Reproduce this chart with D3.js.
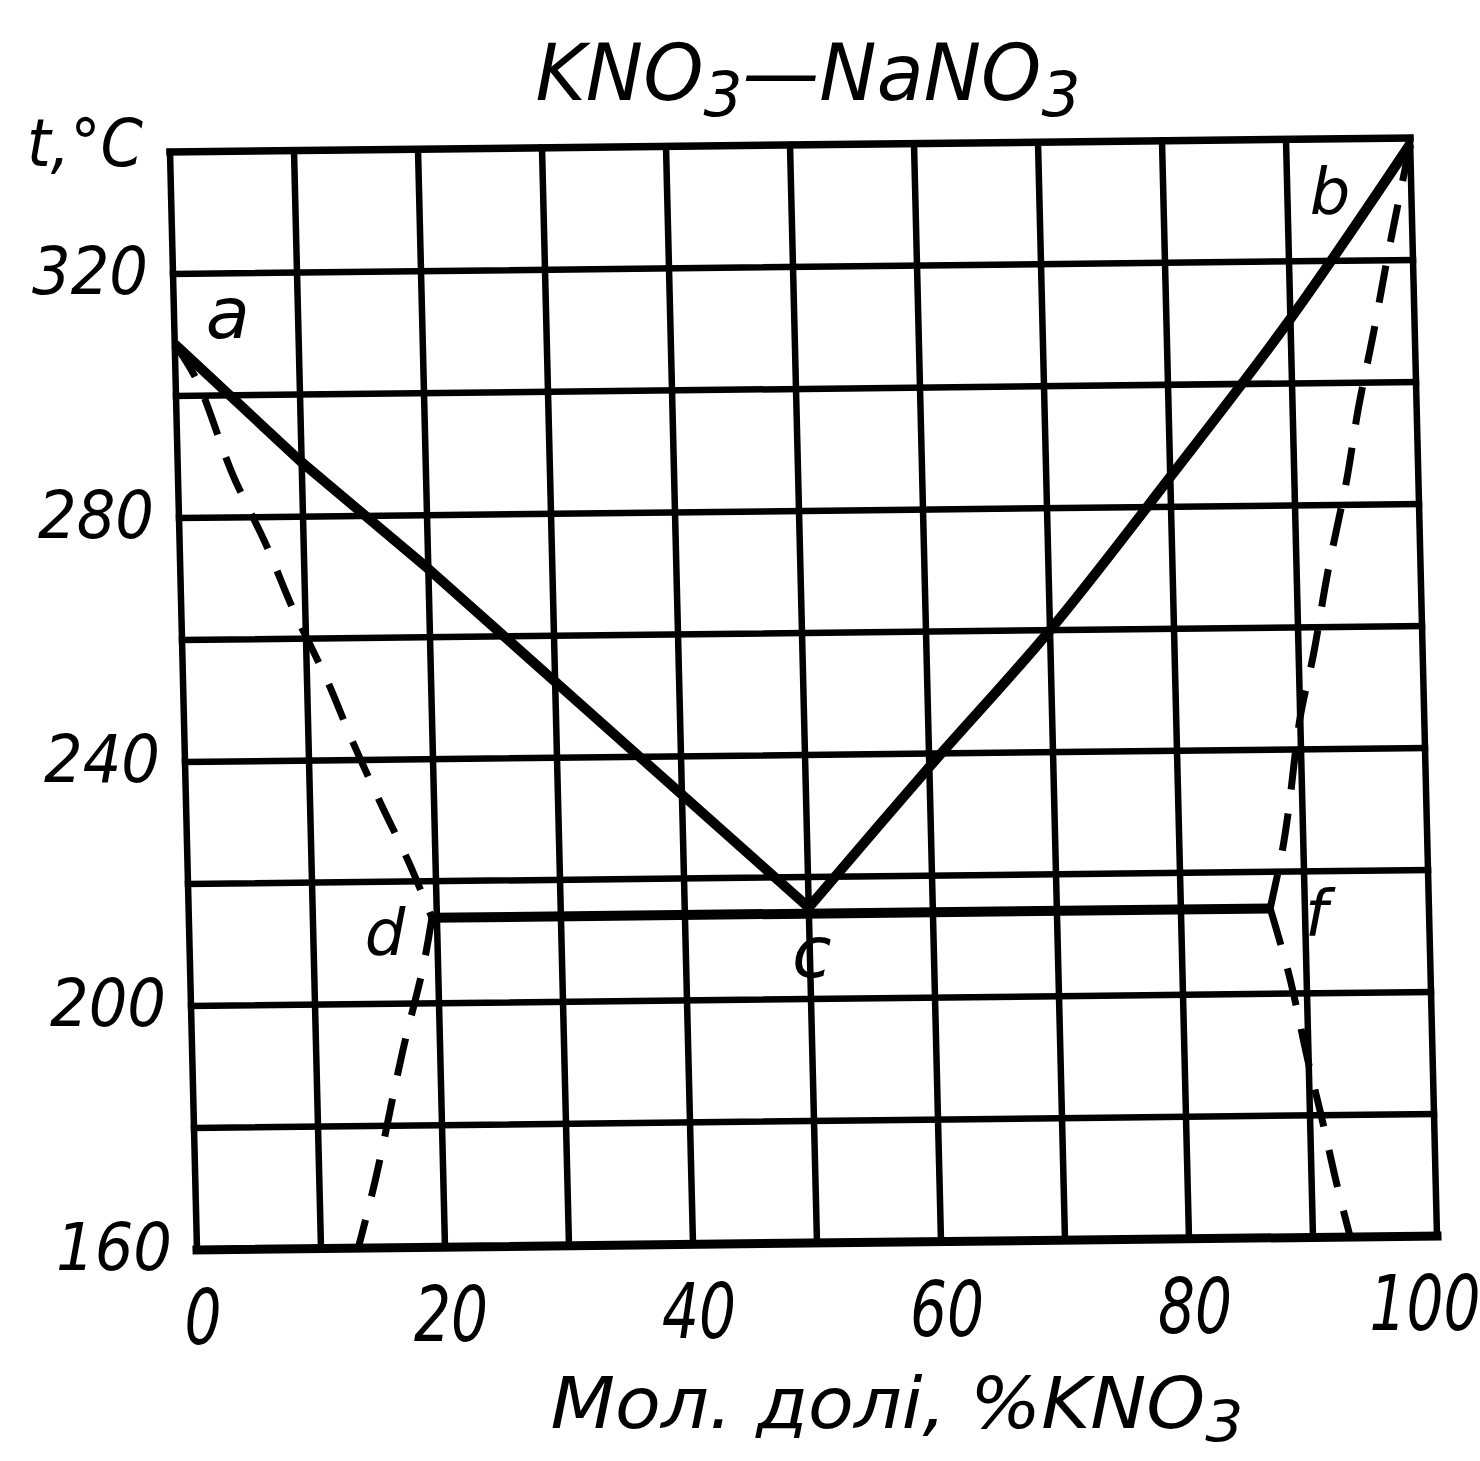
<!DOCTYPE html>
<html><head><meta charset="utf-8">
<script src="https://cdn.jsdelivr.net/npm/d3@7"></script>
<style>body{margin:0;background:#fff}svg{display:block}</style>
</head><body>
<svg id="chart" width="1480" height="1461"></svg>
<script>
// ---- data ----
const xTickValues = [0, 20, 40, 60, 80, 100];
const xTickLabels = ["0", "20", "40", "60", "80", "100"];
const yTickValues = [160, 200, 240, 280, 320];
const yTickLabels = ["160", "200", "240", "280", "320"];
const xGridValues = [0, 10, 20, 30, 40, 50, 60, 70, 80, 90, 100];
const yGridValues = [160, 180, 200, 220, 240, 260, 280, 300, 320, 340];

const liquidusLeft  = [[0, 308.5], [9.9, 289.1], [19.9, 271.4], [50, 215]];
const liquidusRight = [[50, 215], [60, 237.8], [70, 260], [80, 284.9], [90, 310.6], [100, 339]];
const solidusLeft   = [[0, 308.5], [1.7, 302.6], [4.4, 287.1], [7, 275.3], [9, 264.9], [11.6, 253.2], [13.6, 242.8], [15.6, 233.3], [17.9, 222.9], [19.6, 214]];
const solvusLeft    = [[19.6, 214], [18.8, 206], [17, 192.4], [14.5, 171], [13, 160]];
const solidusRight  = [[100, 339], [98, 321], [96.7, 308.4], [95.3, 295.8], [94.2, 283.9], [92.5, 268.9], [91.2, 255.6], [90, 245.3], [88.9, 230.4], [88.3, 223.5], [87.2, 214]];
const solvusRight   = [[87.2, 214], [88.6, 203], [89.9, 189.4], [91, 179], [92, 168.9], [93, 160]];
const eutectic      = [[19.6, 214], [87.2, 214]];
const pointNames    = ["a", "b", "c", "d", "f"];
const pointCoords   = [[0, 308.5], [100, 339], [50, 214], [19.6, 214], [87.2, 214]];

const titleText = "KNO₃—NaNO₃";
const yAxisTitle = "t,°C";
const xAxisTitle = "Мол. долі, %KNO₃";

// ---- layout ----
const W = 1240, H = 1098;
const x = d3.scaleLinear().domain([0, 100]).range([0, W]);
const y = d3.scaleLinear().domain([160, 340]).range([H, 0]);
const M = {a: 1, b: -14 / 1240, c: 27 / 1098, d: 1, e: 170, f: 152};
function P(px, py) { return [M.a * px + M.c * py + M.e, M.b * px + M.d * py + M.f]; }
function PD(xv, yv) { return P(x(xv), y(yv)); }

const svg = d3.select("#chart");
const FONT = "'DejaVu Sans', sans-serif";
const g = svg.append("g")
  .attr("transform", `matrix(${M.a},${M.b},${M.c},${M.d},${M.e},${M.f})`);

// grid
g.selectAll("line.vg").data(xGridValues).enter().append("line")
  .attr("x1", d => x(d)).attr("x2", d => x(d)).attr("y1", 0).attr("y2", H)
  .attr("stroke", "#000").attr("stroke-width", 6.5).attr("stroke-linecap", "square");
g.selectAll("line.hg").data(yGridValues).enter().append("line")
  .attr("x1", 0).attr("x2", W).attr("y1", d => y(d)).attr("y2", d => y(d))
  .attr("stroke", "#000").attr("stroke-width", d => d === 160 ? 9 : (d === 340 ? 7.5 : 6.5))
  .attr("stroke-linecap", "square");

const line = d3.line().x(d => x(d[0])).y(d => y(d[1]));
const curve = d3.line().x(d => x(d[0])).y(d => y(d[1])).curve(d3.curveCatmullRom.alpha(0.5));

// liquidus (solid)
g.append("path").attr("d", line(liquidusLeft))
  .attr("fill", "none").attr("stroke", "#000").attr("stroke-width", 10).attr("stroke-linejoin", "round");
g.append("path").attr("d", curve(liquidusRight))
  .attr("fill", "none").attr("stroke", "#000").attr("stroke-width", 10).attr("stroke-linejoin", "round");
// eutectic
g.append("path").attr("d", line(eutectic)).attr("fill", "none")
  .attr("stroke", "#000").attr("stroke-width", 10);
// dashed solidus / solvus
[solidusLeft, solvusLeft, solidusRight, solvusRight].forEach(s => g.append("path").attr("d", curve(s))
  .attr("fill", "none").attr("stroke", "#000").attr("stroke-width", 7)
  .attr("stroke-dasharray", "38,24"));

// ---- texts ----
function fitText(str, size, cx, baseline, targetW, anchor) {
  const t = svg.append("text").attr("font-family", FONT).attr("font-style", "italic")
    .attr("font-size", size).attr("x", 0).attr("y", 0);
  const parts = str.split(/(₃)/).filter(p => p);
  let lowered = false;
  const drop = size * 0.2;
  parts.forEach(p => {
    if (p === "₃") {
      t.append("tspan").attr("dy", drop).attr("font-size", size * 0.8).text("3");
      lowered = true;
    } else {
      const ts = t.append("tspan").text(p);
      if (lowered) { ts.attr("dy", -drop); lowered = false; }
    }
  });
  const w = t.node().getBBox().width;
  const sx = targetW / w;
  let x0 = cx;
  if (anchor === "middle") x0 = cx - targetW / 2;
  if (anchor === "end") x0 = cx - targetW;
  t.attr("transform", `translate(${x0},${baseline}) scale(${sx},1)`);
  return t;
}

// title
fitText(titleText, 78, 808, 100, 545, "middle");
// y axis title
fitText(yAxisTitle, 66, 27, 166, 116, "start");
// x axis title
fitText(xAxisTitle, 72, 897, 1428, 693, "middle");

// y tick labels
yTickValues.forEach((v, i) => {
  const [px, py] = PD(0, v);
  fitText(yTickLabels[i], 66, px - 25, py + 20, 116, "end");
});
// x tick labels
xTickValues.forEach((v, i) => {
  const [px, py] = PD(v, 160);
  const n = xTickLabels[i].length;
  const dx = v === 100 ? -12 : 6;
  fitText(xTickLabels[i], 76, px + dx, py + 94, 37 * n, "middle");
});

// point labels
const labelOffsets = {a: [53, -24], b: [-80, 46], c: [3, 45], d: [-47, 13], f: [46, 4]};
pointNames.forEach((n, i) => {
  const [px, py] = PD(pointCoords[i][0], pointCoords[i][1]);
  const o = labelOffsets[n];
  const isTall = (n === "b" || n === "d" || n === "f");
  svg.append("text").attr("font-family", FONT).attr("font-style", "italic")
    .attr("font-size", isTall ? 64 : 72).attr("text-anchor", "middle")
    .attr("x", px + o[0]).attr("y", py + o[1] + (isTall ? 24 : 18)).text(n);
});
</script>
</body></html>
